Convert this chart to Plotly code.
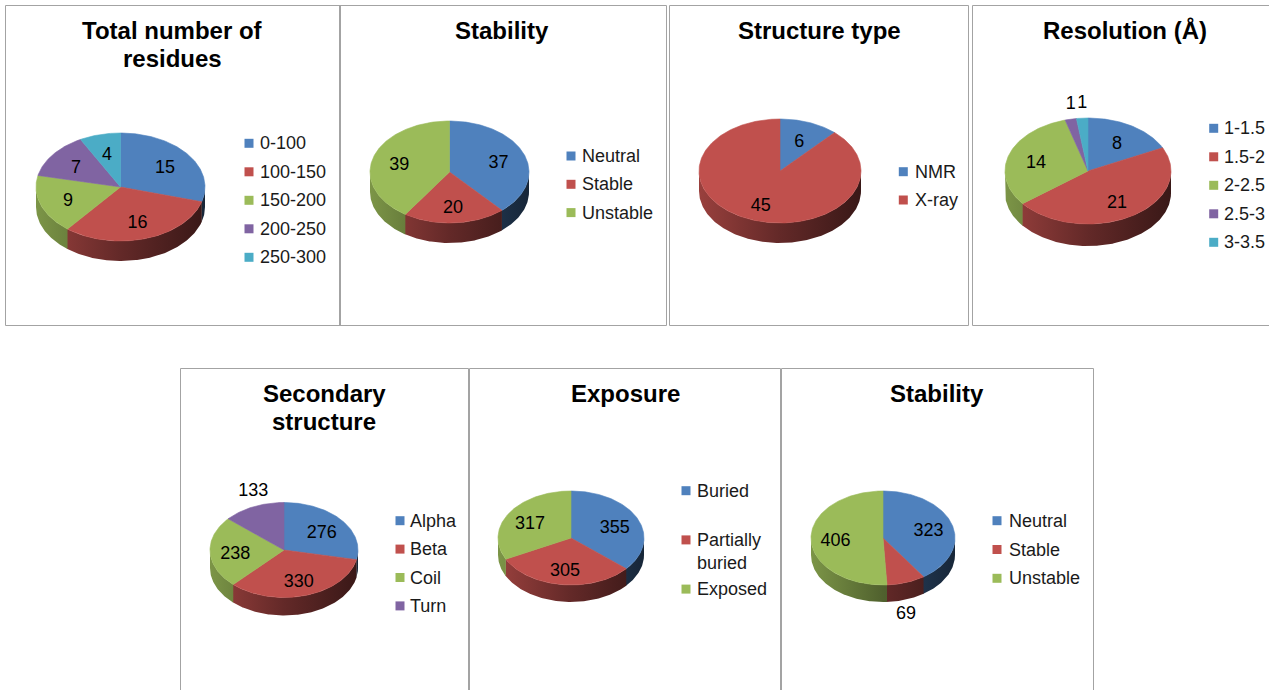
import textwrap
import numpy as np
import plotly.graph_objects as go

# ---------------- data ----------------
residue_bins = ["0-100", "100-150", "150-200", "200-250", "250-300"]
residue_counts = [15, 16, 9, 7, 4]

stability_classes = ["Neutral", "Stable", "Unstable"]
protein_stability_counts = [37, 20, 39]

structure_types = ["NMR", "X-ray"]
structure_type_counts = [6, 45]

resolution_bins = ["1-1.5", "1.5-2", "2-2.5", "2.5-3", "3-3.5"]
resolution_counts = [8, 21, 14, 1, 1]

sec_structure_classes = ["Alpha", "Beta", "Coil", "Turn"]
sec_structure_counts = [276, 330, 238, 133]

exposure_classes = ["Buried", "Partially buried", "Exposed"]
exposure_counts = [355, 305, 317]

mutation_stability_counts = [323, 69, 406]

titles = ["Total number of residues", "Stability", "Structure type",
          "Resolution (Å)", "Secondary structure", "Exposure", "Stability"]

# ---------------- style ----------------
SLICE_COLORS = ["#4F81BD", "#C0504D", "#9BBB59", "#8064A2", "#4BACC6"]
FONT = "Liberation Sans, Arial, sans-serif"
BORDER = "#a3a3a3"
W, H = 1269, 690

# panel layout: frame box, title centre, pie (cx, cy, rx, ry, depth),
# legend (square x, text x, first row y, row step), slices labelled outside
layout_cfg = [
    dict(box=(5.5, 5.5, 340.5, 325.5), title_xy=(172.5, 30),
         pie=(120.5, 187, 84.5, 54, 20), legend=(249, 258, 143.3, 28.5), outside=()),
    dict(box=(339.5, 5.5, 666.5, 325.5), title_xy=(502, 30),
         pie=(449.5, 172, 79.5, 51, 20), legend=(571, 580, 156, 28.3), outside=()),
    dict(box=(669.5, 5.5, 968.5, 325.5), title_xy=(819, 30),
         pie=(780, 171, 81, 52, 20), legend=(903.3, 912.7, 171.7, 28.3), outside=()),
    dict(box=(972.5, 5.5, 1290, 325.5), title_xy=(1125, 30),
         pie=(1088, 171, 83, 53, 22), legend=(1213.7, 1222.3, 128.3, 28.5), outside=(3, 4)),
    dict(box=(180.5, 368.5, 468.5, 720), title_xy=(324, 393),
         pie=(284, 550, 74, 47.5, 18), legend=(400, 408, 520.7, 28.4), outside=(3,)),
    dict(box=(469.5, 368.5, 780.5, 720), title_xy=(625, 393),
         pie=(571, 538, 73, 47, 17), legend=(686, 695.3, 490.7, 49.2), outside=()),
    dict(box=(781.5, 368.5, 1093.5, 720), title_xy=(937, 393),
         pie=(883, 538, 72, 47, 17), legend=(997, 1006.7, 520.7, 28.8), outside=(1,)),
]

series = [
    (residue_bins, residue_counts),
    (stability_classes, protein_stability_counts),
    (structure_types, structure_type_counts),
    (resolution_bins, resolution_counts),
    (sec_structure_classes, sec_structure_counts),
    (exposure_classes, exposure_counts),
    (stability_classes, mutation_stability_counts),
]


def scaled(hex_color, k):
    h = hex_color.lstrip("#")
    r, g, b = (int(h[i:i + 2], 16) for i in (0, 2, 4))
    return f"rgb({int(r * k)},{int(g * k)},{int(b * k)})"


def arc(cx, cy, rx, ry, a0, a1, dy=0.0):
    n = max(2, int(abs(a1 - a0) / 1.0) + 2)
    t = np.radians(np.linspace(a0, a1, n))
    return cx + rx * np.cos(t), cy - ry * np.sin(t) + dy


fig = go.Figure()
annotations = []
shapes = []

for cfg, title, (cats, vals) in zip(layout_cfg, titles, series):
    cx, cy, rx, ry, depth = cfg["pie"]
    total = float(sum(vals))
    spans = [360.0 * v / total for v in vals]
    starts = 90.0 - np.concatenate([[0.0], np.cumsum(spans)[:-1]])
    ends = starts - np.array(spans)

    # frame
    x0, y0, x1, y1 = cfg["box"]
    shapes.append(dict(type="rect", xref="x", yref="y", x0=x0, y0=y0, x1=x1, y1=y1,
                       line=dict(color=BORDER, width=1), fillcolor="rgba(0,0,0,0)",
                       layer="below"))

    # title
    tx, ty = cfg["title_xy"]
    for k, line in enumerate(textwrap.wrap(title, 16)):
        annotations.append(dict(x=tx, y=ty + 28 * k, xref="x", yref="y", text=f"<b>{line}</b>",
                                showarrow=False, xanchor="center", yanchor="middle",
                                font=dict(family=FONT, size=24, color="#000000")))

    # side walls of the front half, shaded left to right
    for i in range(len(vals)):
        col = SLICE_COLORS[i % len(SLICE_COLORS)]
        hi = min(starts[i], 0.0)
        lo = max(ends[i] - 0.6, -180.0)
        if lo >= hi:
            continue
        tx_, ty_ = arc(cx, cy, rx, ry, hi, lo)
        bx_, by_ = arc(cx, cy, rx, ry, lo, hi, depth)
        xs = np.concatenate([tx_, bx_, tx_[:1]])
        ys = np.concatenate([ty_, by_, ty_[:1]])
        fig.add_trace(go.Scatter(
            x=xs, y=ys, mode="lines", fill="toself", line=dict(width=0),
            fillgradient=dict(type="horizontal", start=cx - rx, stop=cx + rx,
                              colorscale=[[0, scaled(col, 0.80)], [0.5, scaled(col, 0.52)],
                                          [1, scaled(col, 0.30)]]),
            hoverinfo="skip", showlegend=False))

    # top faces
    for i in range(len(vals)):
        col = SLICE_COLORS[i % len(SLICE_COLORS)]
        ax, ay = arc(cx, cy, rx, ry, starts[i], ends[i])
        xs = np.concatenate([[cx], ax, [cx]])
        ys = np.concatenate([[cy], ay, [cy]])
        fig.add_trace(go.Scatter(
            x=xs, y=ys, mode="lines", fill="toself", fillcolor=col,
            line=dict(color=col, width=0.6), hoverinfo="skip", showlegend=False))

    # value labels
    lx, ly = [], []
    for i in range(len(vals)):
        mid = np.radians((starts[i] + ends[i]) / 2.0)
        c, s = np.cos(mid), np.sin(mid)
        if i in cfg["outside"]:
            px = cx + rx * c
            py = cy - ry * s
            py = py + depth + 15 if s < 0 else py - 15
        else:
            px = cx + 0.66 * rx * c
            py = cy - 0.66 * ry * s + 3
        lx.append(px)
        ly.append(py)
    fig.add_trace(go.Scatter(
        x=lx, y=ly, mode="text", text=[str(v) for v in vals], textposition="middle center",
        textfont=dict(family=FONT, size=18, color="#000000"),
        hoverinfo="skip", showlegend=False))

    # legend
    sqx, txx, ry0, step = cfg["legend"]
    rows = [ry0 + step * i for i in range(len(cats))]
    fig.add_trace(go.Scatter(
        x=[sqx] * len(cats), y=rows, mode="markers",
        marker=dict(symbol="square", size=9,
                    color=[SLICE_COLORS[i % len(SLICE_COLORS)] for i in range(len(cats))],
                    line=dict(width=0)),
        hoverinfo="skip", showlegend=False))
    for name, yrow in zip(cats, rows):
        lines = textwrap.wrap(name, 12)
        annotations.append(dict(x=txx, y=yrow + (len(lines) - 1) * 11.5, xref="x", yref="y",
                                text="<br>".join(lines), showarrow=False, align="left",
                                xanchor="left", yanchor="middle",
                                font=dict(family=FONT, size=18, color="#1a1a1a")))

fig.update_layout(
    width=W, height=H, autosize=False,
    margin=dict(l=0, r=0, t=0, b=0),
    paper_bgcolor="white", plot_bgcolor="white",
    xaxis=dict(range=[0, W], visible=False, fixedrange=True),
    yaxis=dict(range=[H, 0], visible=False, fixedrange=True),
    shapes=shapes, annotations=annotations,
    showlegend=False,
)

fig.write_html("out.html", config=dict(displayModeBar=False))
